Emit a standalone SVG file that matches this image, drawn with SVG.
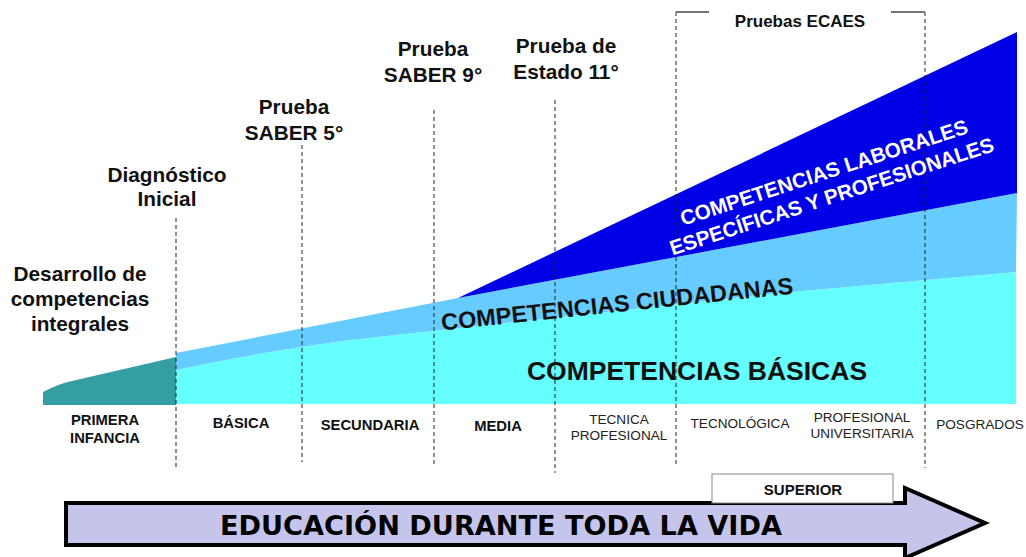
<svg xmlns="http://www.w3.org/2000/svg" width="1026" height="557" viewBox="0 0 1026 557">
<style>
.t{font-family:"Liberation Sans",Arial,sans-serif;font-weight:bold;fill:#111;text-anchor:middle}
.h{font-size:20.8px}
.b{font-size:14.8px}
.n{font-family:"Liberation Sans",Arial,sans-serif;font-size:13.6px;fill:#222;text-anchor:middle}
.d{stroke:#222;stroke-width:1;stroke-dasharray:4,3;fill:none}
</style>
<rect width="1026" height="557" fill="#fff"/>
<g id="areas">
<path id="basicas" d="M176,404 L176,370 Q260,352 350,340 L780,293 L1016,272 L1016,404 Z" fill="#66ffff"/>
<path id="ciudadanas" d="M176,370 L176,353 L458,298 L1017,193 L1016,272 L780,293 L350,340 Q260,352 176,370 Z" fill="#66ccff"/>
<path id="laborales" d="M458,298 L1017,32 L1017,193 Z" fill="#0000e6"/>
<path id="primera" d="M43,405 L43,392 Q58,384 72,381 L176,357 L176,405 Z" fill="#359ea3"/>
</g>
<g id="connectors">
<line class="d" x1="176" y1="218" x2="176" y2="470"/>
<line class="d" x1="302" y1="145" x2="302" y2="462"/>
<line class="d" x1="434" y1="110" x2="434" y2="467"/>
<line class="d" x1="555" y1="100" x2="555" y2="473"/>
<line class="d" x1="676" y1="12" x2="676" y2="465"/>
<line class="d" x1="925" y1="12" x2="925" y2="468"/>
<path d="M676,12 H709 M891,12 H925" stroke="#777" stroke-width="2" fill="none"/>
</g>
<g id="labels-top">
<text class="t" x="800" y="27" font-size="17">Pruebas ECAES</text>
<text class="t h" x="566" y="53">Prueba de</text>
<text class="t h" x="566" y="79">Estado 11°</text>
<text class="t h" x="433" y="56">Prueba</text>
<text class="t h" x="433" y="82">SABER 9°</text>
<text class="t h" x="294" y="114">Prueba</text>
<text class="t h" x="294" y="140">SABER 5°</text>
<text class="t h" x="167" y="182">Diagnóstico</text>
<text class="t h" x="167" y="206">Inicial</text>
<text class="t h" x="80" y="281">Desarrollo de</text>
<text class="t h" x="80" y="306">competencias</text>
<text class="t h" x="80" y="331">integrales</text>
</g>
<g id="labels-areas">
<text class="t" x="697" y="380" font-size="26.5">COMPETENCIAS BÁSICAS</text>
<text class="t" x="0" y="0" font-size="23.5" transform="translate(618,312) rotate(-6)">COMPETENCIAS CIUDADANAS</text>
<g transform="translate(828,185) rotate(-18)" font-family="Liberation Sans,Arial,sans-serif" font-weight="bold" font-size="20.7" fill="#fff" text-anchor="middle">
<text x="0" y="-6">COMPETENCIAS LABORALES</text>
<text x="0" y="19">ESPECÍFICAS Y PROFESIONALES</text>
</g>
</g>
<g id="levels">
<text class="t b" x="105" y="425">PRIMERA</text>
<text class="t b" x="105" y="443">INFANCIA</text>
<text class="t b" x="241" y="428">BÁSICA</text>
<text class="t b" x="370" y="430">SECUNDARIA</text>
<text class="t b" x="498" y="431">MEDIA</text>
<text class="n" x="619" y="424">TECNICA</text>
<text class="n" x="619" y="440">PROFESIONAL</text>
<text class="n" x="740" y="428">TECNOLÓGICA</text>
<text class="n" x="862" y="422">PROFESIONAL</text>
<text class="n" x="862" y="438">UNIVERSITARIA</text>
<text class="n" x="980" y="429">POSGRADOS</text>
</g>
<g id="arrow">
<path d="M66,503 H905 V488 L985,523 L905,558 V545 H66 Z" fill="#c5c5ec" stroke="#000" stroke-width="4" stroke-linejoin="miter"/>
<text x="501" y="535" font-family="DejaVu Sans,Verdana,sans-serif" font-weight="bold" font-size="26.5" fill="#000" text-anchor="middle" textLength="562" lengthAdjust="spacingAndGlyphs">EDUCACIÓN DURANTE TODA LA VIDA</text>
</g>
<g id="superior">
<rect x="712" y="474" width="181" height="29" fill="#fff" stroke="#888" stroke-width="1"/>
<text class="t" x="803" y="495" font-size="15">SUPERIOR</text>
</g>
</svg>
